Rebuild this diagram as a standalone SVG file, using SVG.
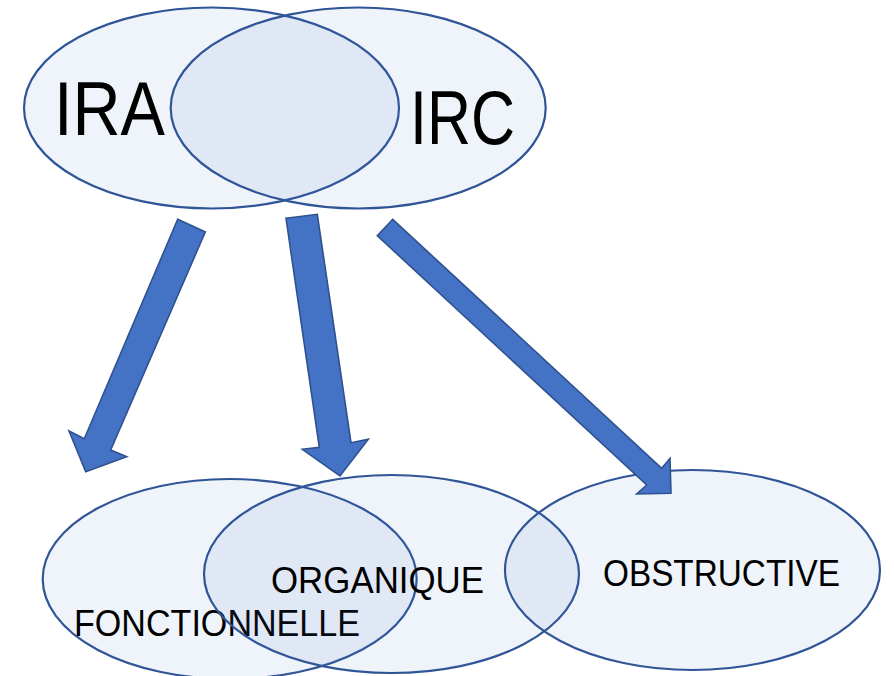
<svg xmlns="http://www.w3.org/2000/svg" width="894" height="676" viewBox="0 0 894 676">
<style>
.set{fill:#4472C4;fill-opacity:0.085;stroke:#2F5597;stroke-width:2.2}
.arrow{fill:#4472C4;stroke:#2F528F;stroke-width:1.6;stroke-linejoin:miter}
.big{font-family:"Liberation Sans",Arial,sans-serif;font-size:76px;fill:#000}
.lbl{font-family:"Liberation Sans",Arial,sans-serif;font-size:37px;fill:#000}
</style>
<rect width="894" height="676" fill="#FFFFFF"/>
<g id="node-ira">
<ellipse class="set" cx="211.5" cy="108" rx="187.5" ry="100.5"/>
<text class="big" x="54" y="135" textLength="111" lengthAdjust="spacingAndGlyphs">IRA</text>
</g>
<g id="node-irc">
<ellipse class="set" cx="358.2" cy="108" rx="187.5" ry="100.5"/>
<text class="big" x="410" y="144" textLength="105" lengthAdjust="spacingAndGlyphs">IRC</text>
</g>
<g id="node-fonctionnelle">
<ellipse class="set" cx="229.7" cy="579" rx="187" ry="100"/>
<text class="lbl" x="74" y="636" textLength="286" lengthAdjust="spacingAndGlyphs">FONCTIONNELLE</text>
</g>
<g id="node-organique">
<ellipse class="set" cx="391.5" cy="574" rx="187.5" ry="99"/>
<text class="lbl" x="271" y="593" textLength="213" lengthAdjust="spacingAndGlyphs">ORGANIQUE</text>
</g>
<g id="node-obstructive">
<ellipse class="set" cx="692.5" cy="570" rx="187.5" ry="100"/>
<text class="lbl" x="603" y="586" textLength="237" lengthAdjust="spacingAndGlyphs">OBSTRUCTIVE</text>
</g>
<g id="connectors">
<polygon class="arrow" points="177.7,219.3 205.3,232 110.7,450 126.7,456.7 85.7,471.7 69,431 84.3,438.7"/>
<polygon class="arrow" points="286,218.3 317.3,214.3 351,442.7 368.3,439.3 340,476 302.3,449.3 319.3,447.3"/>
<polygon class="arrow" points="392.7,219.3 661.7,468.3 670,458.3 671,493.3 636.7,494 646.7,485 377.3,235.7"/>
</g>
</svg>
